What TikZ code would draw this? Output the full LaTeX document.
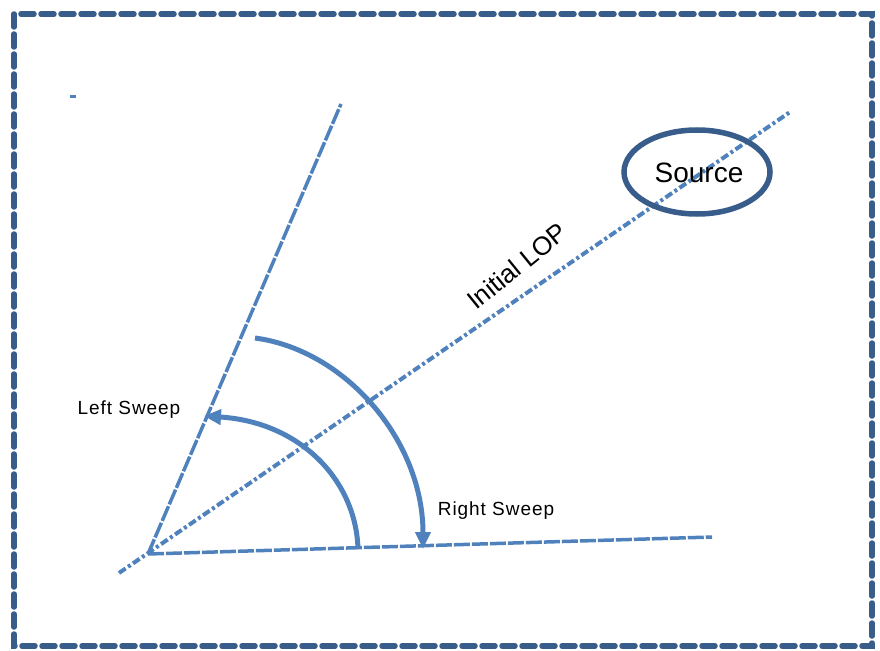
\documentclass[tikz,border=0pt]{standalone}
\usepackage{fontspec}
\setmainfont{Liberation Sans}
\usetikzlibrary{arrows.meta,shapes.geometric}
\definecolor{lineblue}{HTML}{4F81BD}
\definecolor{darkblue}{HTML}{385D8A}
\tikzset{
  frame/.style={draw=darkblue, line width=5.5pt, dash pattern=on 13pt off 7pt, line cap=round},
  lopline/.style={draw=lineblue, line width=4pt, dash pattern=on 8pt off 3pt on 3pt off 3pt},
  rayline/.style={draw=lineblue, line width=3.5pt, dash pattern=on 16pt off 2pt},
  sweep/.style={draw=lineblue, line width=5pt, -{Triangle[length=17pt,width=15pt]}},
  lbl/.style={font=\fontsize{19}{21}\selectfont\addfontfeatures{LetterSpace=5}, text=black, inner sep=0pt},
}
\begin{document}
\begin{tikzpicture}[x=1pt,y=-1pt]
\useasboundingbox (0,0) rectangle (880,650);
\draw[frame] (14,14) rectangle (872,646);
\fill[lineblue] (70,95) rectangle (76,98);
% coordinates
\coordinate (apex) at (148,554);
\coordinate (lopstart) at (119,573);
\coordinate (lopend) at (790,112);
\coordinate (lefttop) at (341,104);
\coordinate (bottomend) at (712,537);
% rays
\draw[rayline] (apex) -- (lefttop);
\draw[rayline] (apex) -- (bottomend);
\draw[lopline] (lopstart) -- (lopend);
% source ellipse
\node[draw=darkblue, line width=5.5pt, ellipse, minimum width=146pt, minimum height=84pt, inner sep=0pt] (src) at (697,172) {};
\node[font=\fontsize{28}{30}\selectfont, inner sep=0pt] (srctxt) at (699,173) {Source};
% sweeps
\coordinate (inA) at (358,549);
\coordinate (inB) at (204,416);
\draw[sweep] (inA) .. controls (356,480) and (300,422) .. (inB);
\coordinate (outA) at (255,338);
\coordinate (outB) at (423,549);
\draw[sweep] (outA) .. controls (345,350) and (423,440) .. (outB);
% labels
\node[lbl] (ls) at (129,410) {Left Sweep};
\node[lbl] (rs) at (496,511) {Right Sweep};
\node[font=\fontsize{26}{28}\selectfont, inner sep=0pt, rotate=39] (lop) at (517,266) {Initial LOP};
\end{tikzpicture}
\end{document}
